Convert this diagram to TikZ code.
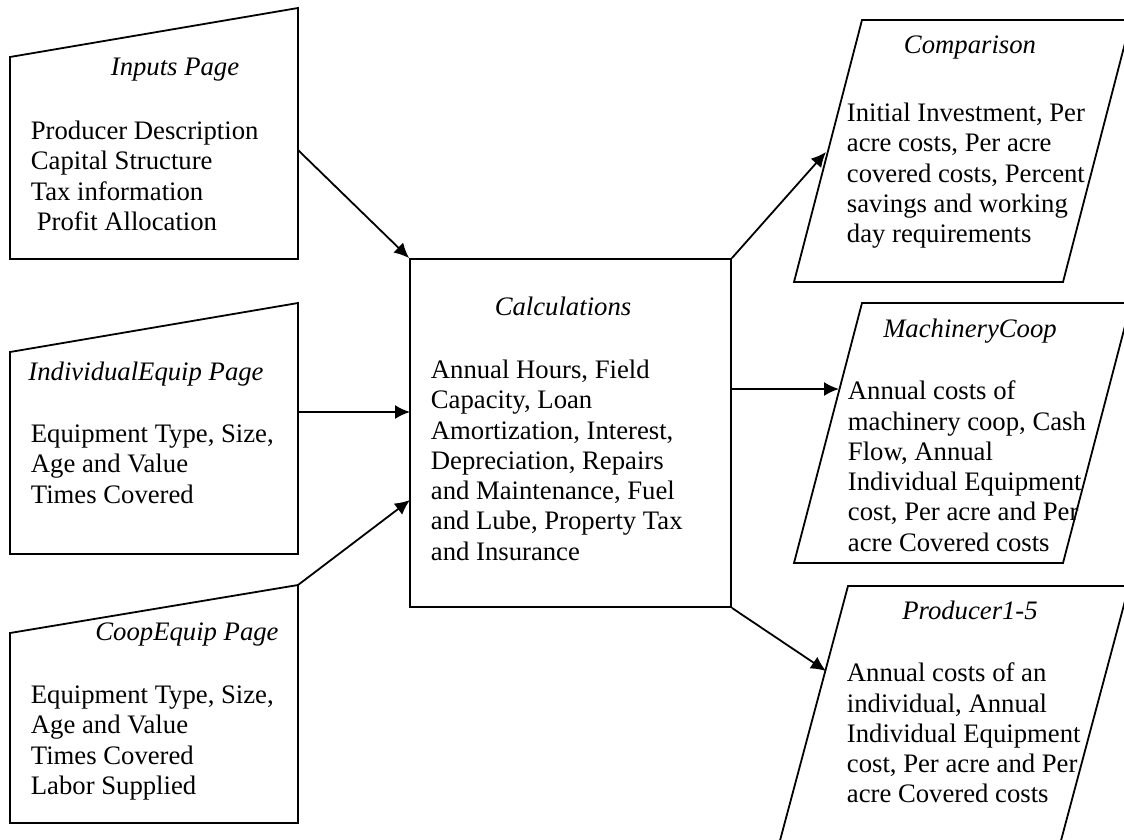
\documentclass[tikz,border=0pt]{standalone}
\usepackage{fontspec}
\setmainfont{Liberation Serif}
\usetikzlibrary{arrows.meta}

\begin{document}
\begin{tikzpicture}[->,>={Latex[length=15pt,width=14pt]},x=1pt,y=-1pt,
    line width=1.8pt,
    page title/.style={font=\fontsize{26.7}{30.3}\selectfont\itshape,inner sep=0pt,anchor=base},
    page body/.style={font=\fontsize{26.7}{30.3}\selectfont,align=left,inner sep=0pt,anchor=north west,yshift=18pt},
    outline/.style={-,draw,line join=miter}]
    \useasboundingbox (0,0) rectangle (1124,839);
    % input pages (manual input shapes)
    \draw[outline] (10,57) -- (298,8) -- (298,259) -- (10,259) -- cycle;
    \draw[outline] (10,352) -- (298,303) -- (298,554) -- (10,554) -- cycle;
    \draw[outline] (10,633) -- (298,585) -- (298,823) -- (10,823) -- cycle;
    \node[page title] (inputs_t) at (175,75) {Inputs Page};
    \node[page body] (inputs_b) at (30,138) {Producer Description\\Capital Structure\\Tax information\\\hspace*{6pt}Profit Allocation};
    \node[page title] (indiv_t) at (146,380) {IndividualEquip Page};
    \node[page body] (indiv_b) at (30,442) {Equipment Type, Size,\\Age and Value\\Times Covered};
    \node[page title] (coop_t) at (187,640) {CoopEquip Page};
    \node[page body] (coop_b) at (30,703) {Equipment Type, Size,\\Age and Value\\Times Covered\\Labor Supplied};
    % calculations
    \node[draw,minimum width=321pt,minimum height=348pt,inner sep=0pt] (calc) at (570.5,433) {};
    \node[page title] (calc_t) at (563,315) {Calculations};
    \node[page body] (calc_b) at (430,377) {Annual Hours, Field\\Capacity, Loan\\Amortization, Interest,\\Depreciation, Repairs\\and Maintenance, Fuel\\and Lube, Property Tax\\and Insurance};
    % output pages (parallelograms)
    \draw[outline] (862,20) -- (1131,20) -- (1063,282) -- (794,282) -- cycle;
    \draw[outline] (862,303) -- (1131,303) -- (1063,563) -- (794,563) -- cycle;
    \draw[outline] (848,586) -- (1129,586) -- (1059,848) -- (778,848) -- cycle;
    \node[page title] (comp_t) at (970,53) {Comparison};
    \node[page body] (comp_b) at (846,120) {Initial Investment, Per\\acre costs, Per acre\\covered costs, Percent\\savings and working\\day requirements};
    \node[page title] (mach_t) at (970,337) {MachineryCoop};
    \node[page body] (mach_b) at (847,398) {Annual costs of\\machinery coop, Cash\\Flow, Annual\\Individual Equipment\\cost, Per acre and Per\\acre Covered costs};
    \node[page title] (prod_t) at (970,619) {Producer1-5};
    \node[page body] (prod_b) at (846,680) {Annual costs of an\\individual, Annual\\Individual Equipment\\cost, Per acre and Per\\acre Covered costs};
    % connector ends
    \coordinate (inputs_out) at (298,150);
    \coordinate (indiv_out) at (298,412);
    \coordinate (coop_out) at (298,585);
    \coordinate (calc_in2) at (410,412);
    \coordinate (calc_in3) at (410,500);
    \coordinate (calc_out2) at (731,389);
    \coordinate (comp_in) at (826,152);
    \coordinate (mach_in) at (839,389);
    \coordinate (prod_in) at (826,671);
    \path
    (inputs_out) edge (calc.north west)
    (indiv_out) edge (calc_in2)
    (coop_out) edge (calc_in3)
    (calc.north east) edge (comp_in)
    (calc_out2) edge (mach_in)
    (calc.south east) edge (prod_in)
    ;
\end{tikzpicture}
\end{document}
